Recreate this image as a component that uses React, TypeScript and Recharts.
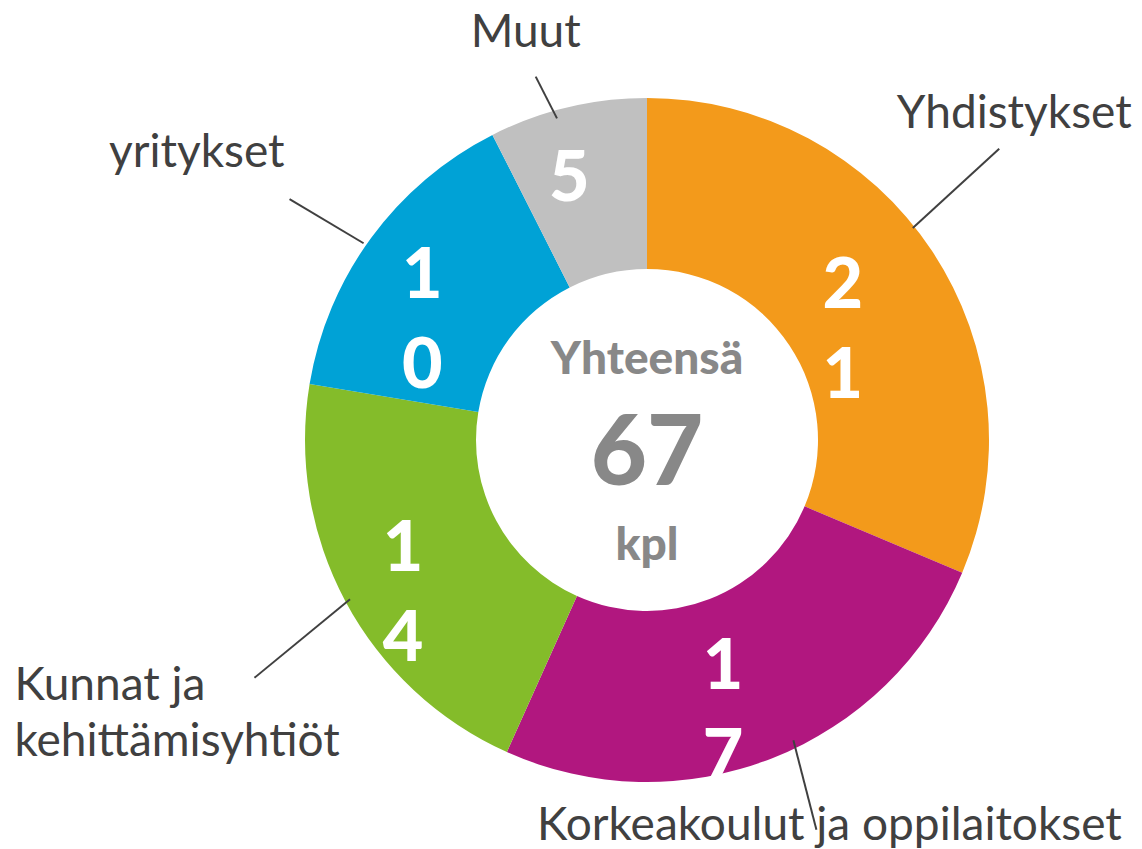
import { Pie, PieChart, Cell } from "recharts";

const categories = [
	"Yhdistykset",
	"Korkeakoulut ja oppilaitokset",
	"Kunnat ja kehittämisyhtiöt",
	"yritykset",
	"Muut",
];
const values = [21, 17, 14, 10, 5];
const labelLines = [
	["Yhdistykset"],
	["Korkeakoulut ja oppilaitokset"],
	["Kunnat ja", "kehittämisyhtiöt"],
	["yritykset"],
	["Muut"],
];
const centerTitle = "Yhteensä";
const centerUnit = "kpl";

const colors = ["#F39A1B", "#B1177F", "#84BC2A", "#00A2D6", "#C0C0C0"];

// leader line tweaks per slice: start/end radius, angle shift, text offset
const leader = [
	{ r1: 340, a1: -5, r2: 457, a2: -6, dx: 15, dy: -21, anchor: "middle" },
	{ r1: 334, a1: -4.5, r2: 425, a2: -2, dx: 13, dy: 10, anchor: "middle" },
	{ r1: 337, a1: 0, r2: 459, a2: -3, dx: -240, dy: 22, anchor: "start" },
	{ r1: 345, a1: -1.5, r2: 431, a2: -2.3, dx: -5, dy: -32, anchor: "end" },
	{ r1: 334, a1: -2.2, r2: 380, a2: -3.6, dx: -10, dy: -30, anchor: "middle" },
];

const data = categories.map((name, i) => ({ name, value: values[i] }));
const total = values.reduce((a, b) => a + b, 0);

const RAD = Math.PI / 180;
const FONT = "Lato, 'Noto Sans', sans-serif";

function polar(cx: number, cy: number, r: number, deg: number) {
	return [cx + r * Math.sin(deg * RAD), cy - r * Math.cos(deg * RAD)];
}

function renderLabel(props: any) {
	const { cx, cy, midAngle, innerRadius, outerRadius, index, value } = props;
	const compass = 90 - midAngle;
	const mid = (innerRadius + outerRadius) / 2;
	const [lx, ly] = polar(cx, cy, mid, compass);
	const digits = String(value).split("");
	const l = leader[index];
	const [sx, sy] = polar(cx, cy, l.r1, compass + l.a1);
	const [ex, ey] = polar(cx, cy, l.r2, compass + l.a2);
	return (
		<g key={`lbl-${index}`}>
			{digits.map((d, k) => (
				<text
					key={k}
					x={lx - 18}
					y={ly + 10 + k * 90}
					textAnchor="middle"
					fill="#ffffff"
					fontFamily={FONT}
					fontWeight={900}
					fontSize={70}
				>
					{d}
				</text>
			))}
			<line x1={sx} y1={sy} x2={ex} y2={ey} stroke="#404040" strokeWidth={2} />
			<text
				x={ex + l.dx}
				y={ey + l.dy}
				textAnchor={l.anchor as any}
				fill="#404040"
				fontFamily={FONT}
				fontSize={46}
			>
				{labelLines[index].map((t, k) => (
					<tspan key={k} x={ex + l.dx} dy={k === 0 ? 0 : 56}>
						{t}
					</tspan>
				))}
			</text>
			{index === 0 && (
				<g fill="#888888" fontFamily={FONT} fontWeight={900} textAnchor="middle">
					<text x={cx} y={cy - 66} fontSize={46}>
						{centerTitle}
					</text>
					<text x={cx} y={cy + 45} fontSize={97}>
						{total}
					</text>
					<text x={cx} y={cy + 120} fontSize={46}>
						{centerUnit}
					</text>
				</g>
			)}
		</g>
	);
}

export default function App() {
	return (
		<div style={{ position: "absolute", left: 0, top: 0, width: 1142, height: 849, background: "#fff" }}>
			<PieChart width={1142} height={849} margin={{ top: 0, right: 0, bottom: 0, left: 0 }}>
				<Pie
					data={data}
					dataKey="value"
					nameKey="name"
					cx={647}
					cy={440}
					innerRadius={171}
					outerRadius={342}
					startAngle={90}
					endAngle={-270}
					stroke="none"
					labelLine={false}
					label={renderLabel}
					isAnimationActive={false}
				>
					{data.map((d, i) => (
						<Cell key={d.name} fill={colors[i]} />
					))}
				</Pie>
			</PieChart>
		</div>
	);
}
